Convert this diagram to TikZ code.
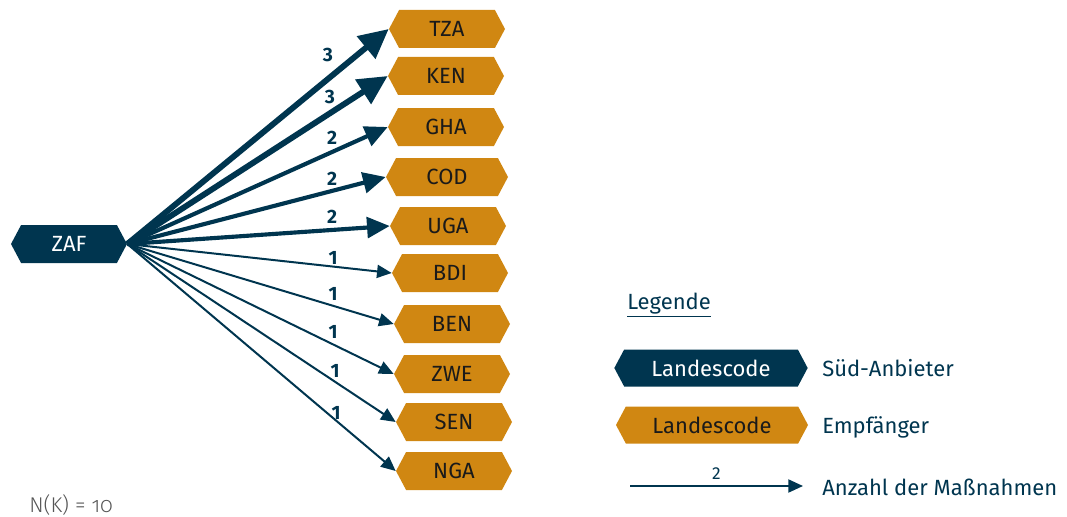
\documentclass[tikz,border=0pt]{standalone}
\usepackage{fontspec}
\setmainfont{Fira Sans}[Numbers=Lining]
\newfontfamily\oldnum{Fira Sans Light}[Numbers=OldStyle]
\usetikzlibrary{shapes.symbols,arrows.meta}
\definecolor{navy}{HTML}{00354F}
\definecolor{ochre}{HTML}{D08712}
\definecolor{codetext}{HTML}{1A1A1A}
\definecolor{note}{HTML}{555555}
\tikzset{
  hexbox/.style={shape=signal, signal to=west and east, signal pointer angle=124,
    minimum width=87pt, minimum height=28.5pt, inner sep=0pt, draw=none,
    font=\fontsize{16.5}{18}\selectfont},
  donor/.style={hexbox, fill=navy, text=white},
  recip/.style={hexbox, fill=ochre, text=codetext},
  flow/.style={draw=navy},
  w3/.style={flow, line width=4.4pt, -{Triangle[length=22pt,width=21pt]}},
  w2/.style={flow, line width=3.1pt, -{Triangle[length=17pt,width=15.5pt]}},
  w1/.style={flow, line width=1.5pt, -{Triangle[length=11pt,width=9.75pt]}},
  cnt/.style={text=navy, font=\fontsize{14.5}{16}\selectfont\bfseries, inner sep=0pt},
  legtext/.style={text=navy, font=\fontsize{16.5}{18}\selectfont, anchor=west, inner sep=0pt},
}
\begin{document}
\begin{tikzpicture}[x=0.75pt, y=-0.75pt]
\useasboundingbox (0,0) rectangle (1067,517);

% provider
\node[donor] (zaf) at (69,244) {ZAF};

% recipients
\node[recip] (tza) at (447,29)  {TZA};
\node[recip] (ken) at (446,76)  {KEN};
\node[recip] (gha) at (446,127) {GHA};
\node[recip, minimum width=91.5pt] (cod) at (447,177) {COD};
\node[recip] (uga) at (448,226) {UGA};
\node[recip] (bdi) at (450,273) {BDI};
\node[recip] (ben) at (452,324) {BEN};
\node[recip] (zwe) at (452,374) {ZWE};
\node[recip] (sen) at (454,422) {SEN};
\node[recip] (nga) at (454,471) {NGA};

% flows
\draw[w3] (zaf.east) -- (tza.west);
\draw[w3] (zaf.east) -- (ken.west);
\draw[w2] (zaf.east) -- (gha.west);
\draw[w2] (zaf.east) -- (cod.west);
\draw[w2] (zaf.east) -- (uga.west);
\draw[w1] (zaf.east) -- (bdi.west);
\draw[w1] (zaf.east) -- (ben.west);
\draw[w1] (zaf.east) -- (zwe.west);
\draw[w1] (zaf.east) -- (sen.west);
\draw[w1] (zaf.east) -- (nga.west);

% counts
\node[cnt] (c1)  at (328,55)  {3};
\node[cnt] (c2)  at (330,97)  {3};
\node[cnt] (c3)  at (332,138) {2};
\node[cnt] (c4)  at (332,179) {2};
\node[cnt] (c5)  at (332,217) {2};
\node[cnt] (c6)  at (333,258) {1};
\node[cnt] (c7)  at (333,294) {1};
\node[cnt] (c8)  at (333,332) {1};
\node[cnt] (c9)  at (335,371) {1};
\node[cnt] (c10) at (336,413) {1};

% legend
\node[legtext] (leg) at (627,305) {\underline{Legende}};
\node[donor, minimum width=145pt, minimum height=27.75pt] (ldonor) at (711,368) {Landescode};
\node[legtext] (ldonortxt) at (822,368) {Süd-Anbieter};
\node[recip, minimum width=144pt, minimum height=27.75pt] (lrecip) at (712,425) {Landescode};
\node[legtext] (lreciptxt) at (822,427) {Empfänger};
\coordinate (la) at (630,486);
\coordinate (lb) at (803,486);
\draw[w1] (la) -- node[above=4.5pt, text=navy, font=\fontsize{13}{15}\selectfont, inner sep=0pt] (lcnt) {2} (lb);
\node[legtext] (larrowtxt) at (822,487) {Anzahl der Maßnahmen};

% sample size
\node[text=note, font=\fontsize{16}{18}\selectfont\oldnum, anchor=west, inner sep=0pt] (nk) at (29,505) {N(K) = 10};
\end{tikzpicture}
\end{document}
